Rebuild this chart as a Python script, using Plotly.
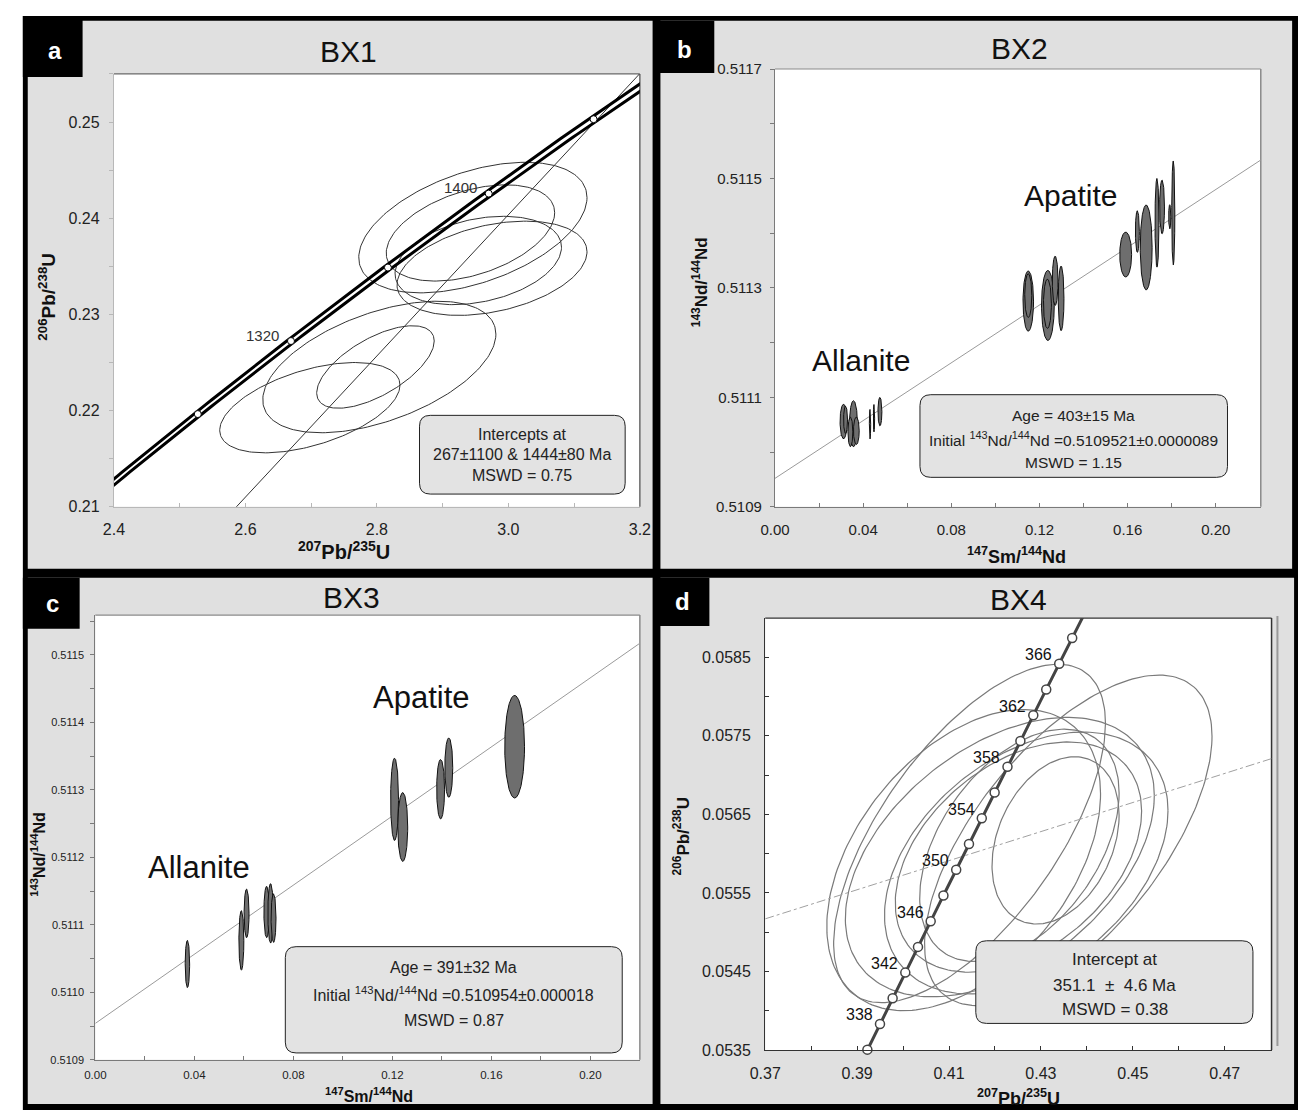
import numpy as np
import plotly.graph_objects as go

W, H = 1309, 1119
FONT = "Liberation Sans, Arial, sans-serif"

# Decay constants (per year)
LAMBDA_238 = 1.55125e-10
LAMBDA_235 = 9.8485e-10
LAMBDA_147 = 6.54e-12
LAMBDA_235_REL_ERR = 0.00136  # relative 2-sigma, drawn as the concordia band

# ---------------- BX1: zircon U-Pb ----------------
bx1_x = [2.698, 2.8037, 2.7978, 2.946, 2.9423, 2.9542, 2.9751]
bx1_xerr = [0.1371, 0.1773, 0.0894, 0.1736, 0.1281, 0.1266, 0.1445]
bx1_y = [0.22031, 0.22454, 0.22454, 0.23903, 0.23847, 0.23561, 0.23480]
bx1_yerr = [0.004694, 0.006837, 0.004286, 0.006786, 0.005000, 0.004592, 0.004898]
bx1_rho = [0.50, 0.50, 0.63, 0.46, 0.42, 0.30, 0.35]
bx1_lower_ma = 267
bx1_upper_ma = 1444
bx1_age_ticks = [1280, 1320, 1360, 1400, 1440]
bx1_age_labels = [1320, 1400]

# ---------------- BX2: allanite + apatite Sm-Nd ----------------
bx2_x = [0.0311, 0.0320, 0.0356, 0.0369, 0.0342, 0.0431, 0.0449, 0.0476,
         0.1149, 0.1149, 0.1238, 0.1236, 0.1271, 0.1298,
         0.1591, 0.1644, 0.1684, 0.1733, 0.1756, 0.1791, 0.1807]
bx2_xerr = [0.0016, 0.0009, 0.0018, 0.0013, 0.0011, 0.0003, 0.0003, 0.0009,
            0.0024, 0.0016, 0.0029, 0.0018, 0.0013, 0.0013,
            0.0027, 0.0009, 0.0027, 0.0009, 0.0011, 0.0005, 0.0007]
bx2_y = [0.511056, 0.511059, 0.511052, 0.511039, 0.511037, 0.511051, 0.511062, 0.511074,
         0.511276, 0.511286, 0.511268, 0.511271, 0.511313, 0.511281,
         0.511361, 0.511403, 0.511374, 0.511419, 0.511448, 0.511430, 0.511437]
bx2_yerr = [3.15e-5, 2.5e-5, 4.2e-5, 2.5e-5, 2.7e-5, 2.7e-5, 2.5e-5, 2.6e-5,
            5.5e-5, 4.0e-5, 6.4e-5, 4.5e-5, 4.5e-5, 5.9e-5,
            4.1e-5, 3.8e-5, 7.75e-5, 8.1e-5, 4.9e-5, 2.2e-5, 9.5e-5]
bx2_age_ma = 403
bx2_initial = 0.5109521

# ---------------- BX3: allanite + apatite Sm-Nd ----------------
bx3_x = [0.0372, 0.0590, 0.0611, 0.0692, 0.0708, 0.0720,
         0.1209, 0.1242, 0.1395, 0.1428, 0.1694]
bx3_xerr = [0.0009, 0.0010, 0.0010, 0.0011, 0.0011, 0.0010,
            0.0016, 0.0020, 0.0016, 0.0016, 0.0040]
bx3_y = [0.511042, 0.511077, 0.511117, 0.511119, 0.511117, 0.511110,
         0.511286, 0.511245, 0.511301, 0.511333, 0.511364]
bx3_yerr = [3.5e-5, 4.4e-5, 3.6e-5, 3.8e-5, 4.4e-5, 3.6e-5,
            6.1e-5, 5.1e-5, 4.4e-5, 4.4e-5, 7.6e-5]
bx3_age_ma = 391
bx3_initial = 0.510954

# ---------------- BX4: U-Pb ----------------
bx4_x = [0.41447, 0.43596, 0.43319, 0.41319, 0.42106, 0.42681, 0.42511, 0.42532]
bx4_xerr = [0.02958, 0.03128, 0.01383, 0.02979, 0.03362, 0.03085, 0.02681, 0.02170]
bx4_y = [0.056257, 0.056169, 0.056169, 0.055918, 0.055956, 0.055881, 0.055956, 0.056106]
bx4_yerr = [0.002155, 0.002105, 0.001065, 0.001917, 0.001779, 0.001667, 0.001466, 0.001479]
bx4_rho = [0.65, 0.63, 0.30, 0.44, 0.44, 0.40, 0.40, 0.45]
bx4_marker_ages = list(range(336, 370, 2))
bx4_label_ages = list(range(338, 367, 4))
bx4_ref_x = [0.37, 0.4802]
bx4_ref_y = [0.05517, 0.05721]

fig = go.Figure()


def ellipse_xy(cx, cy, ex, ey, rho, n=200):
    t = np.linspace(0, 2 * np.pi, n)
    x = cx + ex * np.cos(t)
    y = cy + ey * (rho * np.cos(t) + np.sqrt(1 - rho ** 2) * np.sin(t))
    return x, y


def add_ellipses(xs, xe, ys, ye, rhos, xa, ya, color, width, fill=None):
    for cx, ex, cy, ey, r in zip(xs, xe, ys, ye, rhos):
        x, y = ellipse_xy(cx, cy, ex, ey, r)
        fig.add_trace(go.Scatter(
            x=x, y=y, mode="lines", line=dict(color=color, width=width),
            fill="toself" if fill else "none", fillcolor=fill,
            xaxis=xa, yaxis=ya, hoverinfo="skip", showlegend=False))


def concordia(t_ma, lam235=LAMBDA_235):
    t = np.asarray(t_ma, dtype=float) * 1e6
    return np.exp(lam235 * t) - 1, np.exp(LAMBDA_238 * t) - 1


# ---- panel a traces ----
add_ellipses(bx1_x, bx1_xerr, bx1_y, bx1_yerr, bx1_rho, "x", "y", "#333333", 1)
(dx1, dy1), (dx2, dy2) = concordia([bx1_lower_ma]), concordia([bx1_upper_ma])
slope = (dy2[0] - dy1[0]) / (dx2[0] - dx1[0])
disc_x = np.array([2.3, 3.3])
fig.add_trace(go.Scatter(x=disc_x, y=dy1[0] + slope * (disc_x - dx1[0]), mode="lines",
                         line=dict(color="#333333", width=1), xaxis="x", yaxis="y",
                         hoverinfo="skip", showlegend=False))
band_ages = np.arange(1150, 1560, 2)
for s in (-1, 1):
    cx, cy = concordia(band_ages, LAMBDA_235 * (1 + s * LAMBDA_235_REL_ERR))
    fig.add_trace(go.Scatter(x=cx, y=cy, mode="lines", line=dict(color="black", width=3),
                             xaxis="x", yaxis="y", hoverinfo="skip", showlegend=False))
mx, my = concordia(bx1_age_ticks)
fig.add_trace(go.Scatter(x=mx, y=my, mode="markers",
                         marker=dict(symbol="circle", size=7, color="white",
                                     line=dict(color="black", width=1)),
                         xaxis="x", yaxis="y", hoverinfo="skip", showlegend=False))

# ---- panel b traces ----
slope_b = np.exp(LAMBDA_147 * bx2_age_ma * 1e6) - 1
iso_x = np.array([0.0, 0.3])
fig.add_trace(go.Scatter(x=iso_x, y=bx2_initial + slope_b * iso_x, mode="lines",
                         line=dict(color="#9a9a9a", width=1), xaxis="x2", yaxis="y2",
                         hoverinfo="skip", showlegend=False))
add_ellipses(bx2_x, bx2_xerr, bx2_y, bx2_yerr, [0] * len(bx2_x), "x2", "y2",
             "#111111", 1, fill="#6e6e6e")

# ---- panel c traces ----
slope_c = np.exp(LAMBDA_147 * bx3_age_ma * 1e6) - 1
fig.add_trace(go.Scatter(x=iso_x, y=bx3_initial + slope_c * iso_x, mode="lines",
                         line=dict(color="#9a9a9a", width=1), xaxis="x3", yaxis="y3",
                         hoverinfo="skip", showlegend=False))
add_ellipses(bx3_x, bx3_xerr, bx3_y, bx3_yerr, [0] * len(bx3_x), "x3", "y3",
             "#111111", 1, fill="#6e6e6e")

# ---- panel d traces ----
add_ellipses(bx4_x, bx4_xerr, bx4_y, bx4_yerr, bx4_rho, "x4", "y4", "#7a7a7a", 1.2)
fig.add_trace(go.Scatter(x=bx4_ref_x, y=bx4_ref_y, mode="lines",
                         line=dict(color="#a0a0a0", width=1, dash="dashdot"),
                         xaxis="x4", yaxis="y4", hoverinfo="skip", showlegend=False))
cdx, cdy = concordia(np.arange(330, 374, 0.5))
fig.add_trace(go.Scatter(x=cdx, y=cdy, mode="lines", line=dict(color="#444444", width=3),
                         xaxis="x4", yaxis="y4", hoverinfo="skip", showlegend=False))
mdx, mdy = concordia(bx4_marker_ages)
fig.add_trace(go.Scatter(x=mdx, y=mdy, mode="markers", cliponaxis=False,
                         marker=dict(symbol="circle", size=9, color="white",
                                     line=dict(color="#444444", width=1.5)),
                         xaxis="x4", yaxis="y4", hoverinfo="skip", showlegend=False))


# ---------------- layout helpers ----------------
def PX(x):
    return x / W


def PY(y):
    return 1 - y / H


def rect(x0, y0, x1, y1, fill, line=None, lw=0, layer="below"):
    return dict(type="rect", xref="paper", yref="paper", x0=PX(x0), x1=PX(x1),
                y0=PY(y1), y1=PY(y0), fillcolor=fill, layer=layer,
                line=dict(color=line or fill, width=lw))


def seg(x0, y0, x1, y1, color, width, layer="below"):
    return dict(type="line", xref="paper", yref="paper", x0=PX(x0), x1=PX(x1),
                y0=PY(y0), y1=PY(y1), layer=layer, line=dict(color=color, width=width))


def rounded_box(x0, y0, x1, y1, r=11):
    def p(x, y):
        return f"{PX(x):.6f},{PY(y):.6f}"
    path = (f"M {p(x0 + r, y0)} L {p(x1 - r, y0)} Q {p(x1, y0)} {p(x1, y0 + r)} "
            f"L {p(x1, y1 - r)} Q {p(x1, y1)} {p(x1 - r, y1)} L {p(x0 + r, y1)} "
            f"Q {p(x0, y1)} {p(x0, y1 - r)} L {p(x0, y0 + r)} Q {p(x0, y0)} {p(x0 + r, y0)} Z")
    return dict(type="path", xref="paper", yref="paper", path=path, layer="above",
                fillcolor="#e3e3e3", line=dict(color="#222222", width=1))


def ann(text, x, y, size, color="#111111", angle=0, xanchor="center", yanchor="middle"):
    return dict(text=text, x=PX(x), y=PY(y), xref="paper", yref="paper", showarrow=False,
                font=dict(family=FONT, size=size, color=color), textangle=angle,
                xanchor=xanchor, yanchor=yanchor)


plots = {
    "a": (100, 66, 637, 506),
    "b": (775, 61, 1271, 506),
    "c": (81, 616, 637, 1068),
    "d": (765, 619, 1282, 1058),
}

shapes = [
    rect(7, 7, 1309, 1119, "black"),
    rect(12, 12, 650, 569, "#e0e0e0"),
    rect(658, 12, 1303, 569, "#e0e0e0"),
    rect(12, 578, 650, 1113, "#e0e0e0"),
    rect(658, 578, 1305, 1113, "#e0e0e0"),
]
for k, (x0, y0, x1, y1) in plots.items():
    shapes.append(rect(x0, y0, x1, y1, "white"))
shapes += [
    rect(7, 7, 68, 69, "black"),
    rect(655, 12, 713, 65, "black"),
    rect(7, 578, 65, 630, "black"),
    rect(655, 578, 708, 627, "black"),
]
# plot frames (top / right edges)
frame_cols = {"a": "#6a6a6a", "b": "#8a8a8a", "c": "#8a8a8a", "d": "#333333"}
for k, (x0, y0, x1, y1) in plots.items():
    shapes.append(seg(x0, y0, x1, y0, frame_cols[k], 1.2))
    shapes.append(seg(x1, y0, x1, y1, frame_cols[k], 1.5))
shapes.append(seg(1288, 617, 1288, 1054, "#9a9a9a", 2))

# result boxes
shapes += [
    rounded_box(412, 413, 622, 493),
    rounded_box(923, 392, 1237, 476),
    rounded_box(275, 953, 619, 1061),
    rounded_box(980, 947, 1263, 1031),
]

SUP = lambda s: f"<sup>{s}</sup>"
annotations = [
    ann("<b>a</b>", 40, 42, 24, "white"),
    ann("<b>b</b>", 683, 41, 24, "white"),
    ann("<b>c</b>", 37, 604, 24, "white"),
    ann("<b>d</b>", 681, 602, 24, "white"),
    ann("BX1", 340, 43, 30),
    ann("BX2", 1025, 40, 30),
    ann("BX3", 343, 598, 30),
    ann("BX4", 1024, 600, 30),
    # axis titles
    ann(f"<b>{SUP('207')}Pb/{SUP('235')}U</b>", 335, 550, 20),
    ann(f"<b>{SUP('206')}Pb/{SUP('238')}U</b>", 32, 292, 19, angle=-90),
    ann(f"<b>{SUP('147')}Sm/{SUP('144')}Nd</b>", 1022, 555, 18),
    ann(f"<b>{SUP('143')}Nd/{SUP('144')}Nd</b>", 698, 278, 17, angle=-90),
    ann(f"<b>{SUP('147')}Sm/{SUP('144')}Nd</b>", 360, 1104, 16),
    ann(f"<b>{SUP('143')}Nd/{SUP('144')}Nd</b>", 23, 860, 16, angle=-90),
    ann(f"<b>{SUP('207')}Pb/{SUP('235')}U</b>", 1024, 1106, 18),
    ann(f"<b>{SUP('206')}Pb/{SUP('238')}U</b>", 680, 841, 17, angle=-90),
    # mineral labels
    ann("Allanite", 863, 357, 30),
    ann("Apatite", 1077, 190, 30),
    ann("Allanite", 187, 873, 31),
    ann("Apatite", 414, 700, 31),
    # result boxes
    ann("Intercepts at", 517, 432, 16, "#222222"),
    ann(f"{bx1_lower_ma}±1100 &amp; {bx1_upper_ma}±80 Ma", 517, 453, 16, "#222222"),
    ann("MSWD = 0.75", 517, 474, 16, "#222222"),
    ann(f"Age = {bx2_age_ma}±15 Ma", 1080, 413, 15.5, "#222222"),
    ann(f"Initial {SUP('143')}Nd/{SUP('144')}Nd ={bx2_initial:.7f}±0.0000089", 1080, 437, 15.5, "#222222"),
    ann("MSWD = 1.15", 1080, 461, 15.5, "#222222"),
    ann(f"Age = {bx3_age_ma}±32 Ma", 447, 974, 16, "#222222"),
    ann(f"Initial {SUP('143')}Nd/{SUP('144')}Nd ={bx3_initial:.6f}±0.000018", 447, 1001, 16, "#222222"),
    ann("MSWD = 0.87", 447, 1028, 16, "#222222"),
    ann("Intercept at", 1122, 966, 17, "#222222"),
    ann("351.1\u00a0\u00a0±\u00a0\u00a04.6 Ma", 1122, 992, 17, "#222222"),
    ann("MSWD = 0.38", 1122, 1017, 17, "#222222"),
]

# concordia age labels
for age in bx1_age_labels:
    ax_, ay_ = concordia([age])
    annotations.append(dict(text=str(age), x=ax_[0], y=ay_[0], xref="x", yref="y",
                            showarrow=False, xanchor="right", yanchor="middle",
                            xshift=-10, yshift=6,
                            font=dict(family=FONT, size=15, color="#333333")))
for age in bx4_label_ages:
    ax_, ay_ = concordia([age])
    annotations.append(dict(text=str(age), x=ax_[0], y=ay_[0], xref="x4", yref="y4",
                            showarrow=False, xanchor="right", yanchor="middle",
                            xshift=-5, yshift=9,
                            font=dict(family=FONT, size=16, color="#111111")))


def axis(k, which, rng, tick0, dtick, minor, fmt, ticks, color, size, standoff, anchor):
    x0, y0, x1, y1 = plots[k]
    dom = [PX(x0), PX(x1)] if which == "x" else [PY(y1), PY(y0)]
    return dict(domain=dom, range=rng, tick0=tick0, dtick=dtick, tickformat=fmt,
                ticks=ticks, ticklen=4, tickwidth=1, tickcolor=color,
                showline=True, linecolor=color, linewidth=1.2, mirror=False,
                showgrid=False, zeroline=False, anchor=anchor, fixedrange=True,
                ticklabelstandoff=standoff,
                tickfont=dict(family=FONT, size=size, color="#222222"),
                minor=dict(tick0=tick0, dtick=minor, ticks=ticks, ticklen=4,
                           tickcolor=color, showgrid=False))


fig.update_layout(
    width=W, height=H, margin=dict(l=0, r=0, t=0, b=0),
    paper_bgcolor="white", plot_bgcolor="rgba(0,0,0,0)", showlegend=False,
    font=dict(family=FONT),
    xaxis=axis("a", "x", [2.4, 3.2], 2.4, 0.2, 0.1, ".1f", "inside", "#b8b8b8", 16, 8, "y"),
    yaxis=axis("a", "y", [0.21, 0.255], 0.21, 0.01, 0.005, ".2f", "outside", "#b8b8b8", 16, 6, "x"),
    xaxis2=axis("b", "x", [0, 0.2204], 0, 0.04, 0.02, ".2f", "inside", "#7a7a7a", 15, 9, "y2"),
    yaxis2=axis("b", "y", [0.5109, 0.5117], 0.5109, 0.0002, 0.0001, ".4f", "outside", "#7a7a7a", 15, 5, "x2"),
    xaxis3=axis("c", "x", [0, 0.22], 0, 0.04, 0.02, ".2f", "inside", "#7a7a7a", 11.5, 4, "y3"),
    yaxis3=axis("c", "y", [0.5109, 0.511559], 0.5109, 0.0001, 0.00005, ".4f", "outside", "#7a7a7a", 11, 4, "x3"),
    xaxis4=axis("d", "x", [0.37, 0.4802], 0.37, 0.02, 0.01, ".2f", "inside", "#333333", 16, 9, "y4"),
    yaxis4=axis("d", "y", [0.0535, 0.0590], 0.0535, 0.001, 0.0005, ".4f", "inside", "#333333", 16, 10, "x4"),
    shapes=shapes,
    annotations=annotations,
)

fig.write_html("out.html")
